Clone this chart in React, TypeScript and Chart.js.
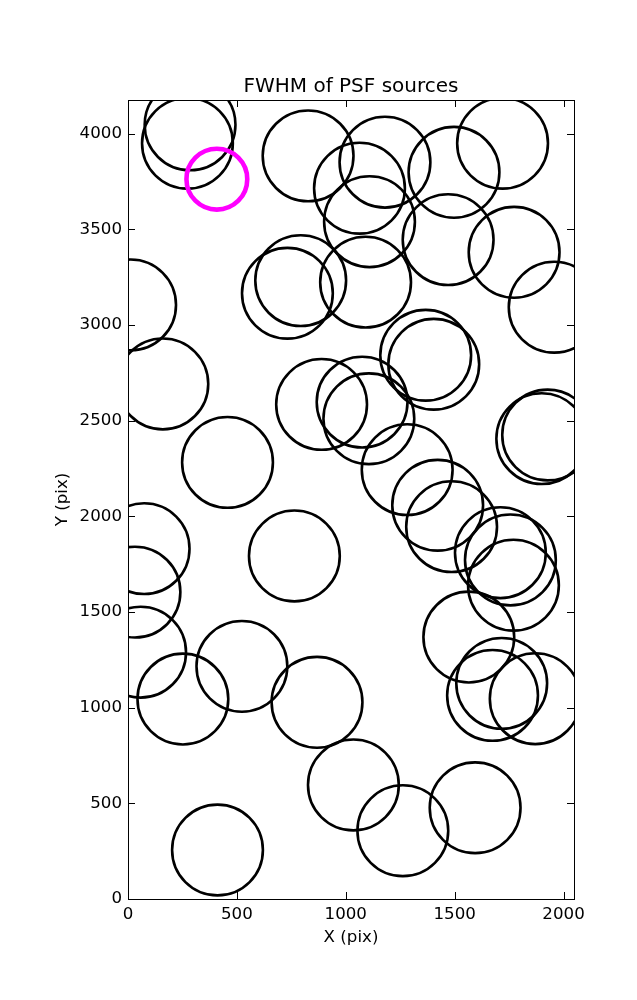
import React, { useEffect, useRef } from 'react';
import { Chart, registerables } from 'chart.js';

Chart.register(...registerables);

const chartTitle = 'FWHM of PSF sources';
const xLabel = 'X (pix)';
const yLabel = 'Y (pix)';
const xTicks = [0, 500, 1000, 1500, 2000];
const yTicks = [0, 500, 1000, 1500, 2000, 2500, 3000, 3500, 4000];
const xMax = 2048;
const yMax = 4176;

const sourceX = [
  285, 273, 827, 1063, 1180, 1109, 1497, 1720, 1470, 1773, 1957, 12, 732, 793, 1091,
  1367, 1404, 160, 889, 1075, 1106, 1900, 1927, 457, 1282, 1422, 1486, 1710, 1756, 1770,
  74, 32, 58, 764, 523, 252, 868, 1565, 1716, 1674, 1870, 1035, 1594, 1262, 411,
];
const sourceY = [
  4046, 3950, 3884, 3715, 3851, 3540, 3798, 3950, 3446, 3380, 3093, 3105, 3166, 3232, 3224,
  2842, 2795, 2692, 2585, 2597, 2510, 2406, 2425, 2282, 2244, 2058, 1946, 1810, 1772, 1640,
  1831, 1604, 1290, 1793, 1216, 1045, 1028, 1369, 1127, 1064, 1047, 596, 477, 357, 256,
];
const highlightX = [408];
const highlightY = [3762];

const FONT = 'DejaVu Sans';

const frameTicks = {
  id: 'frameTicks',
  afterDraw(chart: any) {
    const { ctx, chartArea, scales } = chart;
    const { left, right, top, bottom } = chartArea;
    const xs = scales.x;
    const ys = scales.y;
    const len = 7;
    ctx.save();
    ctx.strokeStyle = '#000';
    ctx.lineWidth = 1;
    ctx.beginPath();
    xs.ticks.forEach((t: any) => {
      const px = Math.round(xs.getPixelForValue(t.value)) + 0.5;
      ctx.moveTo(px, bottom);
      ctx.lineTo(px, bottom - len);
      ctx.moveTo(px, top);
      ctx.lineTo(px, top + len);
    });
    ys.ticks.forEach((t: any) => {
      const py = Math.round(ys.getPixelForValue(t.value)) + 0.5;
      ctx.moveTo(left, py);
      ctx.lineTo(left + len, py);
      ctx.moveTo(right, py);
      ctx.lineTo(right - len, py);
    });
    ctx.stroke();
    ctx.strokeRect(Math.round(left) + 0.5, Math.round(top) + 0.5, Math.round(right - left), Math.round(bottom - top));
    ctx.restore();
  },
};

export default function App() {
  const ref = useRef<HTMLCanvasElement | null>(null);

  useEffect(() => {
    if (!ref.current) return;
    const tickFont = { family: FONT, size: 16.67 };
    const chart = new Chart(ref.current, {
      type: 'scatter',
      data: {
        datasets: [
          {
            label: 'reference',
            data: highlightX.map((x, i) => ({ x, y: highlightY[i] })),
            pointRadius: 30.4,
            pointHoverRadius: 30.4,
            pointBorderWidth: 4.6,
            borderWidth: 4.6,
            pointBorderColor: '#ff00ff',
            borderColor: '#ff00ff',
            pointBackgroundColor: 'rgba(0,0,0,0)',
            backgroundColor: 'rgba(0,0,0,0)',
            clip: 0,
          },
          {
            label: 'sources',
            data: sourceX.map((x, i) => ({ x, y: sourceY[i] })),
            pointRadius: 45.4,
            pointHoverRadius: 45.4,
            pointBorderWidth: 2.6,
            borderWidth: 2.6,
            pointBorderColor: '#000',
            borderColor: '#000',
            pointBackgroundColor: 'rgba(0,0,0,0)',
            backgroundColor: 'rgba(0,0,0,0)',
            clip: 0,
          },
        ],
      },
      options: {
        animation: false,
        responsive: false,
        devicePixelRatio: 1,
        events: [],
        layout: { padding: { left: 49, right: 63, top: 75, bottom: 48 } },
        plugins: {
          legend: { display: false },
          tooltip: { enabled: false },
          title: {
            display: true,
            fullSize: false,
            text: chartTitle,
            color: '#000',
            font: { family: FONT, size: 20, weight: 'normal' },
            padding: { top: 0, bottom: 1 },
          },
        },
        scales: {
          x: {
            type: 'linear',
            min: 0,
            max: xMax,
            afterBuildTicks: (s: any) => {
              s.ticks = xTicks.map((v) => ({ value: v }));
            },
            afterFit: (s: any) => {
              s.height = 53;
            },
            grid: { display: false, drawTicks: false },
            border: { display: false },
            ticks: { color: '#000', font: tickFont, padding: 6, maxRotation: 0, callback: (v: any) => String(v) },
            title: { display: true, text: xLabel, color: '#000', font: tickFont, padding: { top: 4, bottom: 4 } },
          },
          y: {
            type: 'linear',
            min: 0,
            max: yMax,
            afterBuildTicks: (s: any) => {
              s.ticks = yTicks.map((v) => ({ value: v }));
            },
            afterFit: (s: any) => {
              s.width = 79;
            },
            grid: { display: false, drawTicks: false },
            border: { display: false },
            ticks: { color: '#000', font: tickFont, padding: 6, callback: (v: any) => String(v) },
            title: { display: true, text: yLabel, color: '#000', font: tickFont, padding: { top: 4, bottom: 4 } },
          },
        },
      },
      plugins: [frameTicks],
    } as any);
    return () => chart.destroy();
  }, []);

  return (
    <div style={{ position: 'absolute', left: 0, top: 0, width: 637, height: 1000, background: '#fff' }}>
      <canvas ref={ref} width={637} height={1000} style={{ display: 'block', width: 637, height: 1000 }} />
    </div>
  );
}
